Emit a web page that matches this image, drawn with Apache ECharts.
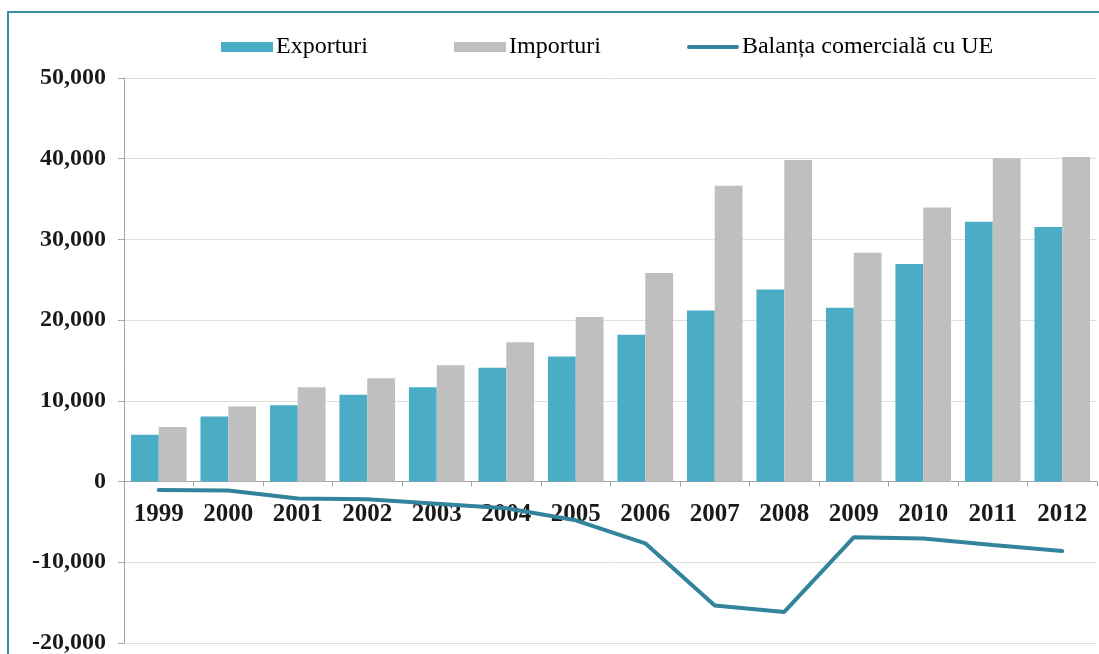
<!DOCTYPE html>
<html>
<head>
<meta charset="utf-8">
<title>Comerțul cu UE 1999–2012</title>
<script src="https://cdn.jsdelivr.net/npm/echarts@6/dist/echarts.min.js"></script>
<style>
  html, body { margin: 0; padding: 0; background: #ffffff; }
  #chart { width: 1099px; height: 654px; }
</style>
</head>
<body>
<div id="chart"></div>
<script>
// Years on the category axis
const years = ['1999', '2000', '2001', '2002', '2003', '2004', '2005',
               '2006', '2007', '2008', '2009', '2010', '2011', '2012'];

// Exports to the EU
const exporturi = [5800, 8050, 9450, 10750, 11700, 14100, 15500,
                   18200, 21200, 23800, 21550, 26950, 32200, 31550];

// Imports from the EU
const importuri = [6750, 9300, 11700, 12800, 14400, 17250, 20400,
                   25850, 36650, 39850, 28350, 33950, 40050, 40200];

// Trade balance with the EU
const balanta = [-1050, -1100, -2100, -2200, -2750, -3300, -4800,
                 -7650, -15350, -16150, -6900, -7050, -7850, -8600];

// Value axis range and step
const yMin = -20000;
const yMax = 50000;
const yStep = 10000;

const seriesNames = ['Exporturi', 'Importuri', 'Balanța comercială cu UE'];

const serif = '"Liberation Serif", "DejaVu Serif", serif';
const axisGray = '#a6a6a6';
const lineColor = '#31849b';

// Plot area box
const gridTop = 78;
const gridBottom = 11;
const chartHeight = 654;
const plotHeight = chartHeight - gridTop - gridBottom;
// Lift the category axis from the bottom edge up to the zero line
const zeroLift = plotHeight * (0 - yMin) / (yMax - yMin);

const chart = echarts.init(document.getElementById('chart'), null, { renderer: 'canvas' });

chart.setOption({
  animation: false,
  backgroundColor: '#ffffff',
  graphic: [{
    type: 'rect',
    shape: { x: 8, y: 12, width: 1200, height: 800 },
    style: { fill: 'none', stroke: '#3a8ca5', lineWidth: 2 },
    silent: true,
    z: -10
  }],
  legend: {
    left: 216,
    top: 30,
    itemWidth: 52,
    itemHeight: 10,
    itemGap: 86,
    textStyle: {
      fontFamily: serif,
      fontSize: 24,
      color: '#000000',
      padding: [8, 0, 0, -2]
    },
    data: [
      { name: seriesNames[0], icon: 'rect' },
      { name: seriesNames[1], icon: 'rect' },
      {
        name: seriesNames[2],
        icon: 'path://M2,0 H53 A2,2 0 0 1 53,4 H2 A2,2 0 0 1 2,0 Z',
        itemStyle: { color: lineColor }
      }
    ]
  },
  grid: {
    left: 124,
    right: 2,
    top: gridTop,
    bottom: gridBottom,
    containLabel: false,
    outerBoundsMode: 'none'
  },
  xAxis: {
    type: 'category',
    data: years,
    offset: -zeroLift,
    axisLine: { onZero: false, lineStyle: { color: axisGray, width: 1 } },
    axisTick: { show: true, length: 5, lineStyle: { color: axisGray } },
    axisLabel: {
      margin: 20,
      fontFamily: serif,
      fontSize: 25,
      fontWeight: 'bold',
      color: '#1a1a1a'
    },
    splitLine: { show: false }
  },
  yAxis: {
    type: 'value',
    min: yMin,
    max: yMax,
    interval: yStep,
    axisLine: { show: true, lineStyle: { color: axisGray, width: 1 } },
    axisTick: { show: true, length: 6, lineStyle: { color: axisGray } },
    axisLabel: {
      margin: 18,
      fontFamily: serif,
      fontSize: 24,
      fontWeight: 'bold',
      color: '#1a1a1a',
      formatter: v => v.toLocaleString('en-US')
    },
    splitLine: { show: true, lineStyle: { color: '#dedede', width: 1 } }
  },
  series: [
    {
      name: seriesNames[0],
      type: 'bar',
      data: exporturi,
      barGap: '0%',
      barCategoryGap: '20%',
      itemStyle: { color: '#4bacc6' },
      z: 2
    },
    {
      name: seriesNames[1],
      type: 'bar',
      data: importuri,
      barGap: '0%',
      barCategoryGap: '20%',
      itemStyle: { color: '#bfbfbf' },
      z: 2
    },
    {
      name: seriesNames[2],
      type: 'line',
      data: balanta,
      symbol: 'none',
      lineStyle: { color: lineColor, width: 4, cap: 'round' },
      itemStyle: { color: lineColor },
      z: 5
    }
  ]
});
</script>
</body>
</html>
